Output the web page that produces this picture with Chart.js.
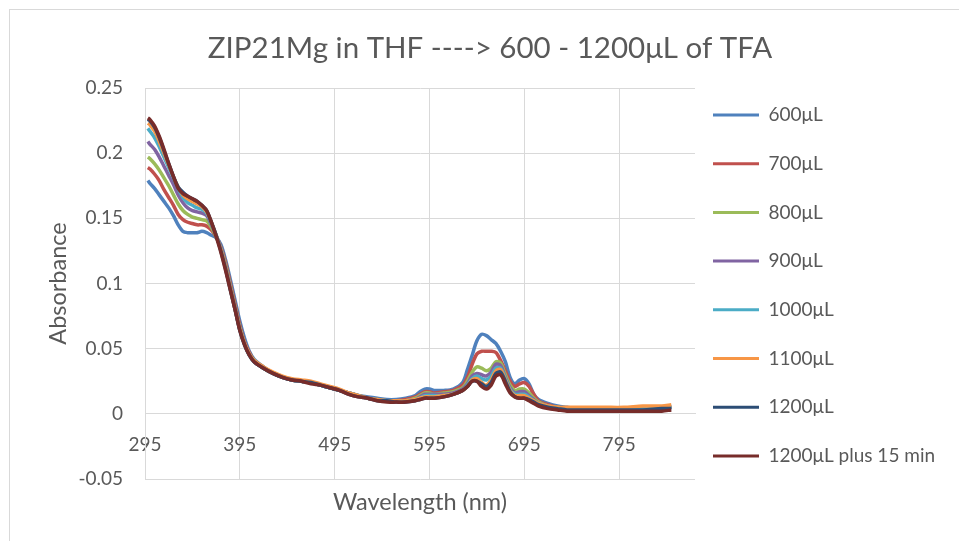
<!DOCTYPE html>
<html>
<head>
<meta charset="utf-8">
<title>ZIP21Mg in THF</title>
<script src="https://cdn.jsdelivr.net/npm/chart.js@4/dist/chart.umd.min.js"></script>
<style>
  html, body { margin: 0; padding: 0; background: #fff; }
  body { width: 959px; height: 541px; overflow: hidden; position: relative; }
  #frame { position: absolute; left: 9px; top: 9px; width: 1000px; height: 600px; border: 1px solid #d9d9d9; }
  #wrap { position: absolute; left: 0; top: 0; width: 959px; height: 541px; }
</style>
</head>
<body>
<div id="frame"></div>
<div id="wrap"><canvas id="spectraChart"></canvas></div>
<script>
// wavelengths (nm) shared by all the spectra
const wavelengths = [298, 300, 305, 310, 315, 320, 325, 330, 335, 340, 345, 350, 355, 360, 365, 370, 375, 380, 385, 390,
  395, 400, 405, 410, 420, 430, 440, 450, 460, 470, 480, 490, 500, 510, 520, 530, 540, 550, 560, 570,
  580, 585, 590, 595, 600, 610, 620, 630, 635, 640, 645, 650, 655, 660, 665, 670, 675, 680, 685, 690,
  695, 700, 705, 710, 720, 730, 740, 750, 760, 780, 800, 820, 840, 850];

// absorbance for each amount of TFA
const abs600 = [0.179, 0.177, 0.173, 0.168, 0.163, 0.158, 0.152, 0.145, 0.140, 0.139, 0.139, 0.139, 0.140, 0.139, 0.137, 0.135, 0.130, 0.118, 0.103, 0.087,
  0.071, 0.058, 0.048, 0.042, 0.036, 0.031, 0.028, 0.026, 0.025, 0.024, 0.022, 0.020, 0.018, 0.016, 0.014, 0.013, 0.012, 0.011, 0.011, 0.012,
  0.014, 0.017, 0.019, 0.019, 0.018, 0.018, 0.019, 0.024, 0.034, 0.045, 0.056, 0.061, 0.060, 0.057, 0.054, 0.048, 0.040, 0.028, 0.023, 0.026,
  0.027, 0.023, 0.015, 0.011, 0.008, 0.006, 0.005, 0.004, 0.004, 0.004, 0.004, 0.005, 0.005, 0.006];
const abs700 = [0.189, 0.188, 0.184, 0.179, 0.172, 0.166, 0.160, 0.153, 0.149, 0.147, 0.146, 0.145, 0.145, 0.144, 0.141, 0.136, 0.128, 0.116, 0.100, 0.084,
  0.068, 0.055, 0.047, 0.041, 0.035, 0.031, 0.028, 0.026, 0.025, 0.024, 0.022, 0.020, 0.018, 0.016, 0.014, 0.012, 0.011, 0.010, 0.010, 0.011,
  0.013, 0.015, 0.017, 0.017, 0.016, 0.017, 0.018, 0.022, 0.028, 0.038, 0.046, 0.048, 0.048, 0.048, 0.047, 0.041, 0.033, 0.025, 0.021, 0.023,
  0.024, 0.021, 0.015, 0.010, 0.007, 0.005, 0.004, 0.004, 0.004, 0.004, 0.004, 0.004, 0.005, 0.005];
const abs800 = [0.197, 0.196, 0.192, 0.187, 0.181, 0.175, 0.168, 0.161, 0.156, 0.153, 0.151, 0.150, 0.149, 0.148, 0.143, 0.136, 0.127, 0.114, 0.098, 0.082,
  0.066, 0.054, 0.046, 0.041, 0.035, 0.031, 0.028, 0.026, 0.025, 0.024, 0.022, 0.020, 0.018, 0.016, 0.014, 0.012, 0.011, 0.010, 0.010, 0.010,
  0.012, 0.014, 0.016, 0.016, 0.015, 0.016, 0.017, 0.020, 0.025, 0.032, 0.036, 0.035, 0.033, 0.035, 0.040, 0.039, 0.030, 0.022, 0.018, 0.019,
  0.019, 0.016, 0.012, 0.009, 0.006, 0.005, 0.004, 0.003, 0.003, 0.003, 0.003, 0.004, 0.004, 0.005];
const abs900 = [0.209, 0.207, 0.203, 0.197, 0.190, 0.183, 0.176, 0.168, 0.162, 0.158, 0.156, 0.155, 0.154, 0.152, 0.145, 0.137, 0.127, 0.113, 0.097, 0.081,
  0.065, 0.054, 0.046, 0.040, 0.035, 0.031, 0.028, 0.026, 0.025, 0.024, 0.022, 0.020, 0.018, 0.016, 0.014, 0.012, 0.011, 0.010, 0.010, 0.010,
  0.011, 0.013, 0.015, 0.015, 0.015, 0.015, 0.016, 0.019, 0.023, 0.029, 0.031, 0.030, 0.029, 0.032, 0.038, 0.037, 0.028, 0.020, 0.016, 0.017,
  0.017, 0.014, 0.011, 0.008, 0.006, 0.004, 0.004, 0.003, 0.003, 0.003, 0.003, 0.004, 0.004, 0.005];
const abs1000 = [0.219, 0.217, 0.212, 0.205, 0.197, 0.189, 0.181, 0.173, 0.166, 0.162, 0.160, 0.158, 0.157, 0.154, 0.146, 0.137, 0.126, 0.112, 0.096, 0.080,
  0.065, 0.053, 0.045, 0.040, 0.035, 0.031, 0.028, 0.026, 0.025, 0.024, 0.022, 0.020, 0.018, 0.016, 0.014, 0.012, 0.011, 0.010, 0.010, 0.010,
  0.011, 0.012, 0.014, 0.014, 0.014, 0.014, 0.015, 0.018, 0.022, 0.027, 0.029, 0.027, 0.026, 0.029, 0.035, 0.035, 0.027, 0.019, 0.015, 0.015,
  0.015, 0.013, 0.010, 0.008, 0.006, 0.004, 0.004, 0.004, 0.004, 0.004, 0.004, 0.004, 0.005, 0.005];
const abs1100 = [0.223, 0.222, 0.217, 0.209, 0.200, 0.191, 0.182, 0.174, 0.168, 0.165, 0.163, 0.161, 0.159, 0.155, 0.147, 0.137, 0.126, 0.112, 0.096, 0.080,
  0.065, 0.054, 0.046, 0.041, 0.036, 0.032, 0.029, 0.027, 0.026, 0.025, 0.023, 0.021, 0.019, 0.016, 0.014, 0.012, 0.011, 0.010, 0.010, 0.010,
  0.011, 0.012, 0.013, 0.013, 0.013, 0.014, 0.015, 0.018, 0.021, 0.026, 0.027, 0.024, 0.022, 0.026, 0.033, 0.034, 0.026, 0.018, 0.014, 0.014,
  0.014, 0.012, 0.010, 0.008, 0.006, 0.005, 0.005, 0.005, 0.005, 0.005, 0.005, 0.006, 0.006, 0.007];
const abs1200 = [0.226, 0.225, 0.220, 0.212, 0.202, 0.192, 0.182, 0.174, 0.170, 0.167, 0.165, 0.163, 0.160, 0.156, 0.147, 0.137, 0.125, 0.111, 0.095, 0.080,
  0.064, 0.053, 0.045, 0.040, 0.035, 0.031, 0.028, 0.026, 0.025, 0.024, 0.022, 0.020, 0.018, 0.015, 0.013, 0.012, 0.010, 0.010, 0.009, 0.009,
  0.010, 0.011, 0.012, 0.012, 0.012, 0.013, 0.015, 0.018, 0.021, 0.025, 0.025, 0.023, 0.021, 0.024, 0.031, 0.032, 0.025, 0.017, 0.013, 0.012,
  0.012, 0.011, 0.009, 0.007, 0.005, 0.004, 0.003, 0.003, 0.003, 0.003, 0.003, 0.003, 0.004, 0.004];
const abs1200plus15 = [0.227, 0.226, 0.221, 0.213, 0.203, 0.192, 0.182, 0.173, 0.169, 0.167, 0.165, 0.163, 0.160, 0.156, 0.147, 0.136, 0.124, 0.110, 0.095, 0.080,
  0.064, 0.053, 0.045, 0.040, 0.035, 0.031, 0.028, 0.026, 0.025, 0.023, 0.022, 0.020, 0.018, 0.015, 0.013, 0.012, 0.010, 0.009, 0.009, 0.009,
  0.010, 0.011, 0.012, 0.012, 0.012, 0.013, 0.015, 0.018, 0.021, 0.025, 0.025, 0.021, 0.019, 0.022, 0.029, 0.030, 0.023, 0.016, 0.013, 0.012,
  0.012, 0.010, 0.008, 0.006, 0.004, 0.003, 0.002, 0.002, 0.002, 0.002, 0.002, 0.002, 0.002, 0.003];

const seriesNames = ["600μL", "700μL", "800μL", "900μL", "1000μL", "1100μL", "1200μL", "1200μL plus 15 min"];
const seriesValues = [abs600, abs700, abs800, abs900, abs1000, abs1100, abs1200, abs1200plus15];
const seriesColors = ["#4f81bd", "#c0504d", "#9bbb59", "#8064a2", "#4bacc6", "#f79646", "#2c4d75", "#772c2a"];

// axis ticks
const xTicks = [295, 395, 495, 595, 695, 795];
const yTicks = [-0.05, 0, 0.05, 0.1, 0.15, 0.2, 0.25];

Chart.defaults.font.family = "Lato, 'Open Sans', sans-serif";
Chart.defaults.color = "#595959";

const gridColor = "#d9d9d9";

const datasets = seriesNames.map((name, i) => ({
  label: name,
  data: wavelengths.map((w, j) => ({ x: w, y: seriesValues[i][j] })),
  borderColor: seriesColors[i],
  backgroundColor: seriesColors[i],
  borderWidth: 3.5,
  pointRadius: 0,
  tension: 0.3,
  fill: false,
  order: seriesNames.length - 1 - i, // later series drawn on top, like Excel
}));

const ctx = document.getElementById("spectraChart").getContext("2d");
const spectraChart = new Chart(ctx, {
  type: "line",
  data: { datasets: datasets },
  options: {
    responsive: true,
    maintainAspectRatio: false,
    animation: false,
    layout: { padding: { left: 35, right: 14, top: 0, bottom: 0 } },
    scales: {
      x: {
        type: "linear",
        min: 295,
        max: 875,
        position: { y: 0 },
        afterBuildTicks: (scale) => { scale.ticks = xTicks.map((v) => ({ value: v })); },
        afterFit: (scale) => { scale.height = 0; },
        grid: { color: gridColor, drawTicks: false },
        border: { color: gridColor },
        ticks: { font: { size: 19 }, padding: 20, maxRotation: 0, callback: (v) => String(v) },
      },
      y: {
        min: -0.05,
        max: 0.25,
        afterBuildTicks: (scale) => { scale.ticks = yTicks.map((v) => ({ value: v })); },
        afterFit: (scale) => { scale.width = 110; },
        grid: { color: gridColor, drawTicks: false },
        border: { color: gridColor },
        ticks: { font: { size: 19 }, padding: 22, callback: (v) => String(v) },
        title: { display: true, text: "Absorbance", font: { size: 23.5 }, padding: { top: 8.9, bottom: 0 } },
      },
    },
    plugins: {
      title: {
        display: true,
        text: "ZIP21Mg in THF ----> 600 - 1200μL of TFA",
        font: { size: 29.5, weight: "normal" },
        padding: { top: 30.3, bottom: 22.3 },
      },
      subtitle: {
        display: true,
        position: "bottom",
        fullSize: false,
        text: "Wavelength (nm)",
        font: { size: 23.5 },
        padding: { top: 8.9, bottom: 24.9 },
      },
      legend: {
        position: "right",
        align: "start",
        maxWidth: 250,
        title: { display: true, text: "", font: { size: 10 }, padding: { top: 75.5, bottom: 0 } },
        labels: {
          boxWidth: 46,
          boxHeight: 3,
          padding: 18,
          font: { size: 19, lineHeight: 1.616 },
          sort: (a, b) => a.datasetIndex - b.datasetIndex,
          generateLabels: (chart) =>
            Chart.defaults.plugins.legend.labels.generateLabels(chart).map((item) => ({
              ...item,
              text: [item.text],
              fillStyle: item.strokeStyle,
              lineWidth: 0,
            })),
        },
      },
      tooltip: { enabled: false },
    },
  },
});
</script>
</body>
</html>
